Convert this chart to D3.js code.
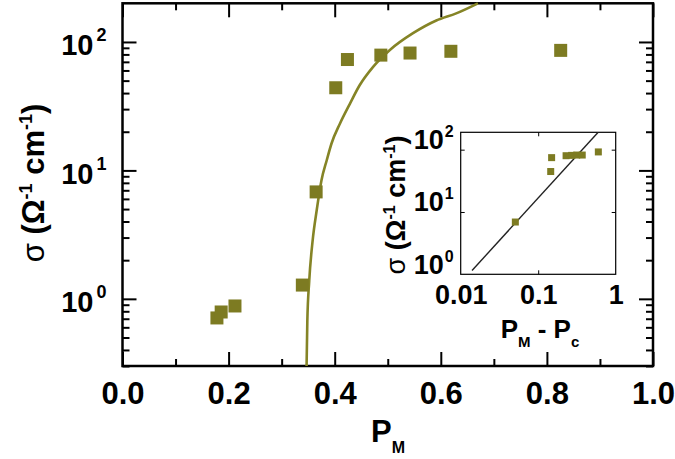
<!DOCTYPE html>
<html>
<head>
<meta charset="utf-8">
<script src="https://cdn.jsdelivr.net/npm/d3@7"></script>
<style>
  body { margin: 0; background: #fff; }
  svg { display: block; }
  text { font-family: "Liberation Sans", Arial, sans-serif; font-weight: bold; fill: #000; }
</style>
</head>
<body>
<div id="chart"></div>
<script>
////////////////////////////  Data  ////////////////////////////
// main panel: measured points
const pm = [0.178, 0.186, 0.212, 0.339, 0.365, 0.402, 0.424, 0.487, 0.542, 0.619, 0.826];
const sigma = [0.71, 0.79, 0.88, 1.28, 6.8, 44, 73, 79, 82, 84.6, 86];

// main panel: fit curve
const fitPm = [0.347, 0.3484, 0.352, 0.3584, 0.366, 0.375, 0.385, 0.394, 0.41, 0.4286, 0.447, 0.4724, 0.504, 0.5476, 0.5915, 0.629, 0.67];
const fitSigma = [0.3, 0.67, 1.38, 2.84, 4.87, 8.35, 12, 16.2, 23.2, 33, 46, 64, 86.6, 117, 147, 167, 200];

// inset: log-log
const insetDp = [0.0507, 0.145, 0.149, 0.229, 0.27, 0.314, 0.37, 0.597];
const insetSigma = [6.9, 44.6, 74.5, 80, 81, 82, 82, 92];
const insetFitDp = [0.014, 0.59];
const insetFitSigma = [1.15, 189];

// ticks
const xMajor = [0, 0.2, 0.4, 0.6, 0.8, 1.0];
const xMinor = [0.1, 0.3, 0.5, 0.7, 0.9];
const yMajor = [1, 10, 100];
const insetXLabels = [0.01, 0.1, 1];
const insetYLabels = [1, 10, 100];

////////////////////////////  Init  ////////////////////////////
const width = 675, height = 459;
const olive = "#7d7b22";
const svg = d3.select("#chart").append("svg").attr("width", width).attr("height", height);

const frame = { left: 122.5, right: 653, top: 3.3, bottom: 366 };
const xScale = d3.scaleLinear().domain([0, 1]).range([frame.left, frame.right]);
const yScale = d3.scaleLog().domain([0.3, 200]).range([frame.bottom, frame.top]);

const yMinor = yScale.ticks().filter((d) => !yMajor.includes(d) && d < 200);

function tickAxis(axis, tr) {
  const g = svg.append("g").attr("transform", tr).call(axis);
  g.select(".domain").remove();
  g.selectAll("line").attr("stroke", "#000").attr("stroke-width", 2);
  return g;
}

// bottom
const xb = tickAxis(d3.axisBottom(xScale).tickValues(xMajor).tickSize(-14).tickPadding(16).tickFormat(d3.format(".1f")),
  `translate(0,${frame.bottom})`);
xb.selectAll("text").attr("font-size", 31).attr("font-family", null);
tickAxis(d3.axisBottom(xScale).tickValues(xMinor).tickSize(-7).tickFormat(""), `translate(0,${frame.bottom})`);
// top
tickAxis(d3.axisTop(xScale).tickValues(xMajor).tickSize(-14).tickFormat(""), `translate(0,${frame.top})`);
tickAxis(d3.axisTop(xScale).tickValues(xMinor).tickSize(-7).tickFormat(""), `translate(0,${frame.top})`);
// left
const yl = tickAxis(d3.axisLeft(yScale).tickValues(yMajor).tickSize(-14).tickFormat(""), `translate(${frame.left},0)`);
tickAxis(d3.axisLeft(yScale).tickValues(yMinor).tickSize(-7).tickFormat(""), `translate(${frame.left},0)`);
// right
tickAxis(d3.axisRight(yScale).tickValues(yMajor).tickSize(-14).tickFormat(""), `translate(${frame.right},0)`);
tickAxis(d3.axisRight(yScale).tickValues(yMinor).tickSize(-7).tickFormat(""), `translate(${frame.right},0)`);

// y labels 10^n
yl.selectAll(".tick").each(function (d) {
  const t = d3.select(this).append("text")
    .attr("x", -16).attr("y", 13).attr("text-anchor", "end").attr("font-size", 29);
  t.append("tspan").text("10");
  t.append("tspan").attr("dy", -14).attr("dx", 3).attr("font-size", 18).text(Math.round(Math.log10(d)));
});

// frame
svg.append("rect")
  .attr("x", frame.left).attr("y", frame.top)
  .attr("width", frame.right - frame.left).attr("height", frame.bottom - frame.top)
  .attr("fill", "none").attr("stroke", "#000").attr("stroke-width", 2.5);

// fit curve
const fitData = fitPm.map((p, i) => ({ p, s: fitSigma[i] }));
const line = d3.line().curve(d3.curveMonotoneX).x((d) => xScale(d.p)).y((d) => yScale(d.s));
svg.append("path").datum(fitData).attr("d", line)
  .attr("fill", "none").attr("stroke", "#858426").attr("stroke-width", 2.6);

// points
const sq = 13;
svg.selectAll(".pt").data(pm.map((p, i) => ({ p, s: sigma[i] }))).enter()
  .append("rect").attr("class", "pt")
  .attr("x", (d) => xScale(d.p) - sq / 2).attr("y", (d) => yScale(d.s) - sq / 2)
  .attr("width", sq).attr("height", sq).attr("fill", olive);

// axis titles
const xt = svg.append("text").attr("x", 388).attr("y", 442).attr("text-anchor", "middle").attr("font-size", 31);
xt.append("tspan").text("P");
xt.append("tspan").attr("dy", 11).attr("font-size", 16).text("M");

function sigmaLabel(g, fs, sup) {
  g.append("tspan").attr("font-weight", "normal").text("σ");
  g.append("tspan").text(" (Ω");
  g.append("tspan").attr("dy", -fs * 0.38).attr("font-size", sup).text("-1");
  g.append("tspan").attr("dy", fs * 0.38).text(" cm");
  g.append("tspan").attr("dy", -fs * 0.38).attr("font-size", sup).text("-1");
  g.append("tspan").attr("dy", fs * 0.38).text(")");
}
const yt = svg.append("text").attr("transform", "translate(44,183) rotate(-90)")
  .attr("text-anchor", "middle").attr("font-size", 31);
sigmaLabel(yt, 31, 18);

////////////////////////////  Inset  ////////////////////////////
const inset = { left: 460.7, right: 615.7, top: 132.3, bottom: 274.3 };
const ix = d3.scaleLog().domain([0.01, 1]).range([inset.left, inset.right]);
const iy = d3.scaleLog().domain([1, 190]).range([inset.bottom, inset.top]);

function insetAxis(axis, tr) {
  const g = svg.append("g").attr("transform", tr).call(axis);
  g.select(".domain").remove();
  g.selectAll("line").attr("stroke", "#000").attr("stroke-width", 1);
  return g;
}
insetAxis(d3.axisBottom(ix).tickValues([0.1]).tickSize(-4).tickFormat(""), `translate(0,${inset.bottom})`);
insetAxis(d3.axisTop(ix).tickValues([0.1]).tickSize(-4).tickFormat(""), `translate(0,${inset.top})`);
insetAxis(d3.axisLeft(iy).tickValues([10, 100]).tickSize(-4).tickFormat(""), `translate(${inset.left},0)`);
insetAxis(d3.axisRight(iy).tickValues([10, 100]).tickSize(-4).tickFormat(""), `translate(${inset.right},0)`);

svg.append("rect")
  .attr("x", inset.left).attr("y", inset.top)
  .attr("width", inset.right - inset.left).attr("height", inset.bottom - inset.top)
  .attr("fill", "none").attr("stroke", "#000").attr("stroke-width", 1.2);

// inset x labels
const ixl = insetAxis(d3.axisBottom(ix).tickValues(insetXLabels).tickSize(0).tickPadding(11).tickFormat((d) => String(d)),
  `translate(0,${inset.bottom})`);
ixl.selectAll("text").attr("font-size", 27).attr("font-family", null);

// inset y labels
const iyl = insetAxis(d3.axisLeft(iy).tickValues(insetYLabels).tickSize(0).tickFormat(""), `translate(${inset.left},0)`);
iyl.selectAll(".tick").each(function (d) {
  const t = d3.select(this).append("text")
    .attr("x", -7).attr("y", -1).attr("text-anchor", "end").attr("font-size", 27);
  t.append("tspan").text("10");
  t.append("tspan").attr("dy", -12).attr("dx", 1).attr("font-size", 16).text(Math.round(Math.log10(d)));
});

// inset fit line
const iline = d3.line().x((d) => ix(d.x)).y((d) => iy(d.y));
svg.append("path").datum(insetFitDp.map((x, i) => ({ x, y: insetFitSigma[i] })))
  .attr("d", iline).attr("fill", "none").attr("stroke", "#222").attr("stroke-width", 1.4);

const isq = 7;
svg.selectAll(".ipt").data(insetDp.map((x, i) => ({ x, y: insetSigma[i] }))).enter()
  .append("rect").attr("class", "ipt")
  .attr("x", (d) => ix(d.x) - isq / 2).attr("y", (d) => iy(d.y) - isq / 2)
  .attr("width", isq).attr("height", isq).attr("fill", olive);

// inset titles
const ixt = svg.append("text").attr("x", 540).attr("y", 338).attr("text-anchor", "middle").attr("font-size", 26);
ixt.append("tspan").text("P");
ixt.append("tspan").attr("dy", 9).attr("font-size", 15).text("M");
ixt.append("tspan").attr("dy", -9).text(" - P");
ixt.append("tspan").attr("dy", 9).attr("font-size", 15).text("c");

const iyt = svg.append("text").attr("transform", "translate(405,205) rotate(-90)")
  .attr("text-anchor", "middle").attr("font-size", 27);
sigmaLabel(iyt, 27, 16);
</script>
</body>
</html>
